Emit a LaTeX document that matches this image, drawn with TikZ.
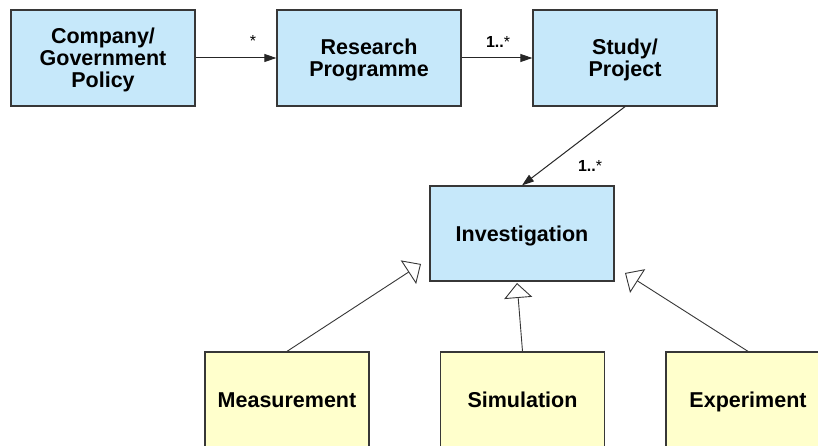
\documentclass[tikz,border=0pt]{standalone}
\usepackage{fontspec}
\setmainfont{Liberation Sans}
\usetikzlibrary{arrows.meta}
\definecolor{boxblue}{RGB}{198,232,250}
\definecolor{boxyellow}{RGB}{255,255,204}
\definecolor{edgegray}{RGB}{55,55,55}
\begin{document}
\begin{tikzpicture}[x=1pt,y=-1pt,
  cls/.style={draw=edgegray, line width=1.3pt, inner sep=0pt, align=center,
    font=\fontsize{21.5}{22}\selectfont\bfseries, minimum height=96pt},
  bluebox/.style={cls, fill=boxblue, minimum width=184pt},
  yellowbox/.style={cls, fill=boxyellow, minimum width=164pt},
  oneline/.style={text height=15.4pt, text depth=0pt},
  twoline/.style={text height=37.4pt, text depth=0pt},
  threeline/.style={text height=59.4pt, text depth=0pt},
  assoc/.style={draw=black!85, line width=1pt, -{Triangle[length=12pt,width=8pt]}},
  gen/.style={draw=edgegray, line width=0.9pt, -{Triangle[open,length=15pt,width=28pt]}},
  mult/.style={font=\fontsize{16}{18}\selectfont\bfseries, inner sep=0pt}
]
\fill[white] (0,0) rectangle (818,446);
\useasboundingbox (0,0) rectangle (818,446);

\node[bluebox, threeline] (pol) at (103,58) {Company/\\Government\\Policy};
\node[bluebox, twoline] (prog) at (369,58) {Research\\Programme};
\node[bluebox, twoline] (study) at (625,58) {Study/\\Project};
\node[bluebox, oneline, minimum height=95pt] (inv) at (522,233.5) {Investigation};

\node[yellowbox, oneline] (meas) at (287,400) {Measurement};
\node[yellowbox, oneline] (sim) at (522.5,400) {Simulation};
\node[yellowbox, oneline] (exp) at (748,400) {Experiment};

\draw[assoc] (pol) -- (prog);
\draw[assoc] (prog) -- (study);
\draw[assoc] (study.south) -- (inv.north);

\coordinate (g1) at (421,264);
\coordinate (g2) at (517,283);
\coordinate (g3) at (625,273);
\draw[gen] (meas.north) -- (g1);
\draw[gen] (sim.north) -- (g2);
\draw[gen] (exp.north) -- (g3);

\node[mult] (m1) at (253,41) {\mdseries *};
\node[mult] (m2) at (498,42) {1..\mdseries *};
\node[mult] (m3) at (590,166) {1..\mdseries *};
\end{tikzpicture}
\end{document}
